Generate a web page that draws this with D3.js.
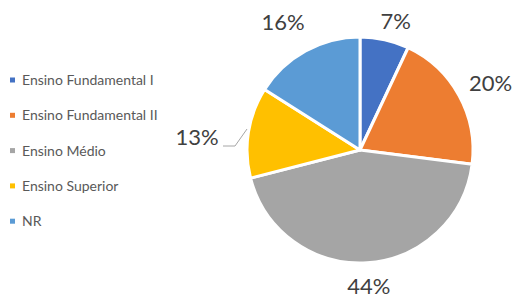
<!DOCTYPE html>
<html>
<head>
<meta charset="utf-8">
<script src="https://cdn.jsdelivr.net/npm/d3@7"></script>
<style>
  body { margin: 0; background: #fff; }
  svg { display: block; font-family: Lato, "Open Sans", sans-serif; }
</style>
</head>
<body>
<svg id="chart" width="516" height="299"></svg>
<script>
// chart data
var categories = ["Ensino Fundamental I", "Ensino Fundamental II", "Ensino Médio", "Ensino Superior", "NR"];
var values = [7, 20, 44, 13, 16];
var colors = ["#4472C4", "#ED7D31", "#A5A5A5", "#FFC000", "#5B9BD5"];

var width = 516, height = 299,
    cx = 360, cy = 150, radius = 113;

var svg = d3.select("#chart");

var data = categories.map(function (c, i) {
    return {name: c, value: values[i], color: colors[i]};
});

var pie = d3.pie()
    .sort(null)
    .value(function (d) { return d.value; });

var arc = d3.arc()
    .innerRadius(0)
    .outerRadius(radius);

var labelArc = d3.arc()
    .innerRadius(141)
    .outerRadius(141);

var g = svg.append("g")
    .attr("transform", "translate(" + cx + "," + cy + ")");

var arcs = pie(data);

g.selectAll("path.slice")
    .data(arcs)
    .enter().append("path")
    .attr("class", "slice")
    .attr("d", arc)
    .attr("fill", function (d) { return d.data.color; })
    .attr("stroke", "#fff")
    .attr("stroke-width", 3)
    .attr("stroke-linejoin", "round");

// small nudges so labels sit like Excel's outside-end labels
var nudge = {0: [5, 9], 1: [7, 1], 2: [0, -5], 4: [-9, -4]};
// Ensino Superior label was dragged out in the original, with a leader line
var moved = {3: [-163, -13]};

g.selectAll("text.pct")
    .data(arcs)
    .enter().append("text")
    .attr("class", "pct")
    .attr("transform", function (d, i) {
        var p = moved[i];
        if (!p) {
            var c = labelArc.centroid(d);
            p = [c[0] + nudge[i][0], c[1] + nudge[i][1]];
        }
        return "translate(" + p[0] + "," + p[1] + ")";
    })
    .attr("text-anchor", "middle")
    .attr("dy", "0.36em")
    .attr("fill", "#404040")
    .style("font-size", "22px")
    .text(function (d) { return d.value + "%"; });

// leader line for the moved label
g.append("path")
    .attr("d", d3.line()([[-137, -4], [-125, -4], [-113, -21]]))
    .attr("fill", "none")
    .attr("stroke", "#a6a6a6")
    .attr("stroke-width", 1);

// legend
var legend = svg.append("g")
    .attr("transform", "translate(10,80)");

var item = legend.selectAll("g.item")
    .data(data)
    .enter().append("g")
    .attr("class", "item")
    .attr("transform", function (d, i) { return "translate(0," + (i * 35.3) + ")"; });

item.append("rect")
    .attr("x", 0)
    .attr("y", -2.5)
    .attr("width", 5)
    .attr("height", 5)
    .attr("fill", function (d) { return d.color; });

item.append("text")
    .attr("x", 12)
    .attr("y", 0)
    .attr("dy", "0.36em")
    .attr("fill", "#595959")
    .style("font-size", "14px")
    .text(function (d) { return d.name; });
</script>
</body>
</html>
